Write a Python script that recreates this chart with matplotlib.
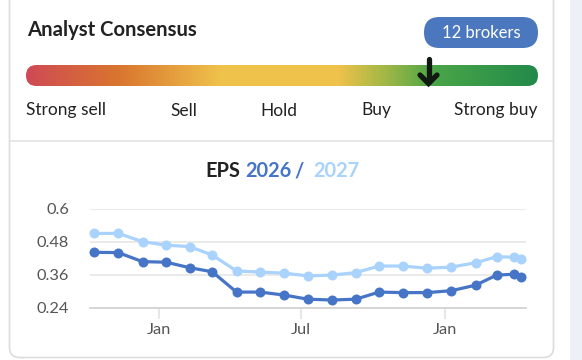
import matplotlib
matplotlib.use("Agg")
import matplotlib.pyplot as plt
import numpy as np
import pandas as pd
from matplotlib.patches import FancyBboxPatch, Rectangle
from matplotlib.colors import LinearSegmentedColormap

plt.rcParams["font.family"] = ["Lato", "DejaVu Sans"]

# --- data -------------------------------------------------------------
dates = pd.to_datetime([
    "2024-10-10", "2024-11-10", "2024-12-11", "2025-01-10", "2025-02-09",
    "2025-03-10", "2025-04-10", "2025-05-10", "2025-06-10", "2025-07-10",
    "2025-08-10", "2025-09-09", "2025-10-09", "2025-11-08", "2025-12-09",
    "2026-01-09", "2026-02-09", "2026-03-08", "2026-03-30", "2026-04-08",
])
eps_2026 = [0.442, 0.441, 0.408, 0.406, 0.386, 0.371, 0.297, 0.297, 0.286, 0.271,
            0.268, 0.271, 0.297, 0.295, 0.295, 0.302, 0.322, 0.359, 0.362, 0.353]
eps_2027 = [0.511, 0.511, 0.481, 0.468, 0.463, 0.432, 0.374, 0.370, 0.366, 0.356,
            0.359, 0.368, 0.392, 0.392, 0.384, 0.388, 0.404, 0.426, 0.424, 0.419]
y_ticks = [0.24, 0.36, 0.48, 0.6]
y_labels = ["0.24", "0.36", "0.48", "0.6"]
x_ticks = pd.to_datetime(["2025-01-01", "2025-07-01", "2026-01-01"])
x_labels = ["Jan", "Jul", "Jan"]
rating_labels = ["Strong sell", "Sell", "Hold", "Buy", "Strong buy"]
n_brokers = 12

DARK = "#4675c8"
LIGHT = "#a9d2fc"

fig = plt.figure(figsize=(5.82, 3.60), dpi=100)

# background layer in pixel coordinates
bg = fig.add_axes([0, 0, 1, 1])
bg.set_xlim(0, 582); bg.set_ylim(360, 0); bg.axis("off")

bg.add_patch(Rectangle((570, 0), 12, 360, facecolor="#eef0f8", edgecolor="none"))
bg.add_patch(FancyBboxPatch((9.5, -12), 544, 369.5, boxstyle="round,pad=0,rounding_size=10",
                            facecolor="white", edgecolor="#dcdcdc", lw=1.2))

bg.text(27, 29.5, "Analyst Consensus", ha="left", va="center", fontsize=14.6,
        fontweight="bold", color="#222222")

# broker badge
bg.add_patch(FancyBboxPatch((424, 17), 114, 31, boxstyle="round,pad=0,rounding_size=15.5",
                            facecolor="#4a77bd", edgecolor="none"))
bg.text(481, 33, f"{n_brokers} brokers", ha="center", va="center", fontsize=12, color="white")

# gradient bar
cmap = LinearSegmentedColormap.from_list("cons", [
    (0.0, "#cf4a55"), (0.18, "#d9752f"), (0.38, "#efc24b"), (0.61, "#efc24b"),
    (0.70, "#a3b846"), (0.80, "#4aa548"), (1.0, "#228a4a")])
grad = np.linspace(0, 1, 512).reshape(1, -1)
im = bg.imshow(grad, cmap=cmap, extent=(26, 538, 86, 65), aspect="auto", zorder=2)
clip = FancyBboxPatch((26, 65), 512, 21, boxstyle="round,pad=0,rounding_size=10.5",
                      facecolor="none", edgecolor="none", transform=bg.transData)
bg.add_patch(clip)
im.set_clip_path(clip)
bg.set_xlim(0, 582); bg.set_ylim(360, 0)

# consensus arrow
bg.plot([428.5, 428.5], [59, 82], color="#111a11", lw=3.8, solid_capstyle="round", zorder=3)
bg.plot([420, 428.5, 437], [75, 83.5, 75], color="#111a11", lw=3.8,
        solid_capstyle="round", solid_joinstyle="miter", zorder=3)

lab_x = [26, 184, 279, 376, 537]
lab_ha = ["left", "center", "center", "center", "right"]
for lx, lt, ha in zip(lab_x, rating_labels, lab_ha):
    bg.text(lx, 110.5, lt, ha=ha, va="center", fontsize=12.5, color="#222222")

bg.plot([10, 553], [140.5, 140.5], color="#e3e3e3", lw=1.2)

# chart title
bg.text(205, 171, "EPS", ha="left", va="center", fontsize=14.4, fontweight="bold", color="#222222")
bg.text(245, 171, "2026", ha="left", va="center", fontsize=14.4, fontweight="bold", color=DARK)
bg.text(294, 171, "/", ha="left", va="center", fontsize=14.4, fontweight="bold", color=DARK)
bg.text(313, 171, "2027", ha="left", va="center", fontsize=14.4, fontweight="bold", color=LIGHT)

# EPS chart
ax = fig.add_axes([90 / 582, 1 - 307.7 / 360, 435.7 / 582, 98.7 / 360])
ax.patch.set_alpha(0)
ax.plot(dates, eps_2027, color=LIGHT, lw=2.3, marker="o", ms=7.2, mec="none", clip_on=False, zorder=3)
ax.plot(dates, eps_2026, color=DARK, lw=2.3, marker="o", ms=7.2, mec="none", clip_on=False, zorder=4)
ax.set_ylim(0.24, 0.6)
ax.set_xlim(pd.Timestamp("2024-10-05"), pd.Timestamp("2026-04-14"))
ax.set_yticks(y_ticks, y_labels)
ax.set_xticks(x_ticks, x_labels)
ax.grid(axis="y", color="#e6e6e6", lw=1.2)
ax.set_axisbelow(True)
for s in ["top", "right", "left"]:
    ax.spines[s].set_visible(False)
ax.spines["bottom"].set_color("#d0d0d0")
ax.spines["bottom"].set_linewidth(1.2)
ax.tick_params(axis="y", length=0, pad=15, labelsize=11.8, labelcolor="#555555")
ax.tick_params(axis="x", length=8, width=1.1, color="#e0e0e0", pad=3, labelsize=11.8,
               labelcolor="#555555")

fig.savefig("out.png", dpi=100)
